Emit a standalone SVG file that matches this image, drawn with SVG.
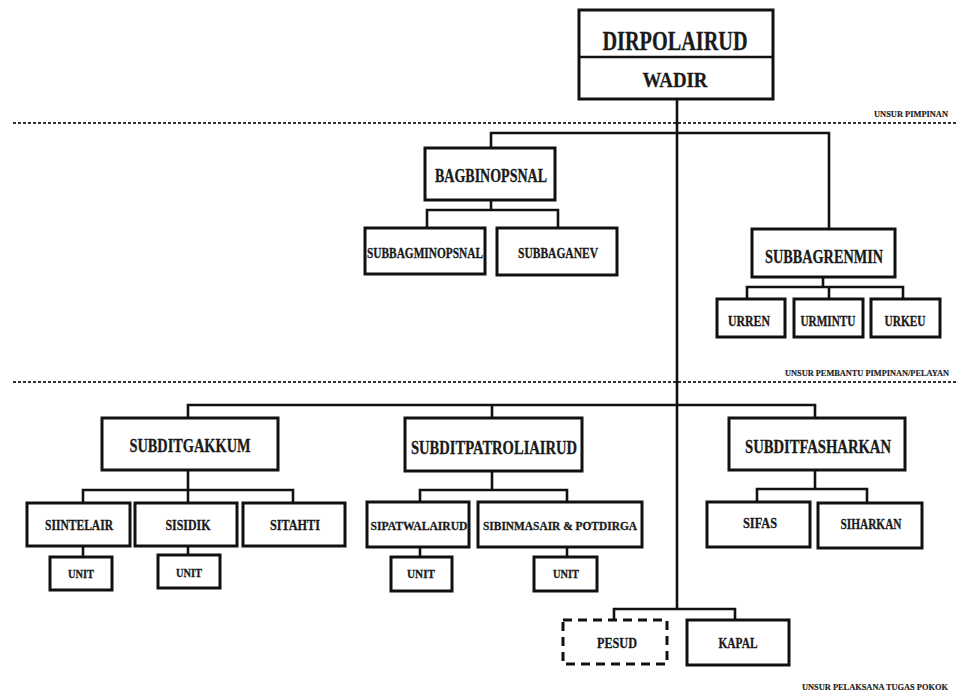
<svg xmlns="http://www.w3.org/2000/svg" width="956" height="695" viewBox="0 0 956 695">
<style>
.b{fill:#fff;stroke:#111;stroke-width:3}
.d{fill:#fff;stroke:#111;stroke-width:3;stroke-dasharray:9,6}
.c{fill:none;stroke:#111;stroke-width:2.6}
.sep{fill:none;stroke:#333;stroke-width:2;stroke-dasharray:3,2}
text{font-family:"Liberation Serif","DejaVu Serif",serif;font-weight:bold;fill:#1a1a1a;text-anchor:middle;stroke:#1a1a1a;stroke-width:0.3}
.s{font-size:8px;text-anchor:start;stroke-width:0.15}
.m{font-size:15px}
.l{font-size:18px}
.u{font-size:12px}
</style>
<rect width="956" height="695" fill="#fff"/>
<g id="separators">
<line class="sep" x1="13" y1="123" x2="956" y2="123"/>
<text class="s" x="874" y="117" font-size="9" textLength="74" lengthAdjust="spacingAndGlyphs">UNSUR PIMPINAN</text>
<line class="sep" x1="13" y1="382" x2="956" y2="382"/>
<text class="s" x="785" y="376" textLength="164" lengthAdjust="spacingAndGlyphs">UNSUR  PEMBANTU PIMPINAN/PELAYAN</text>
<text class="s" x="802" y="690" textLength="146" lengthAdjust="spacingAndGlyphs">UNSUR PELAKSANA TUGAS POKOK</text>
</g>
<g id="connectors">
<polyline class="c" points="677,99 677,609"/>
<polyline class="c" points="491,148 491,133 829,133 829,229"/>
<polyline class="c" points="491,200 491,210"/>
<polyline class="c" points="427,228 427,210 558,210 558,228"/>
<polyline class="c" points="823,277 823,287"/>
<polyline class="c" points="747,299 747,287 903,287 903,299"/>
<polyline class="c" points="829,287 829,299"/>
<polyline class="c" points="188,418 188,405 815,405 815,418"/>
<polyline class="c" points="492,405 492,418"/>
<polyline class="c" points="188,470 188,503"/>
<polyline class="c" points="83,503 83,490 293,490 293,503"/>
<polyline class="c" points="83,546 83,557"/>
<polyline class="c" points="188,546 188,555"/>
<polyline class="c" points="492,471 492,490"/>
<polyline class="c" points="420,502 420,490 567,490 567,502"/>
<polyline class="c" points="420,547 420,557"/>
<polyline class="c" points="567,547 567,557"/>
<polyline class="c" points="815,470 815,489"/>
<polyline class="c" points="757,502 757,489 867,489 867,503"/>
<polyline class="c" points="614,620 614,609 735,609 735,620"/>
</g>
<g id="dirpolairud">
<rect class="b" x="579" y="10" width="194" height="89"/>
<line class="c" x1="579" y1="57" x2="773" y2="57"/>
<text x="675" y="50" font-size="28" textLength="145" lengthAdjust="spacingAndGlyphs">DIRPOLAIRUD</text>
<text x="675" y="87" font-size="22" textLength="65" lengthAdjust="spacingAndGlyphs">WADIR</text>
</g>
<g id="bagbinopsnal">
<rect class="b" x="425" y="148" width="130" height="52"/>
<text class="l" x="491" y="182" textLength="112" lengthAdjust="spacingAndGlyphs">BAGBINOPSNAL</text>
</g>
<g id="subbagminopsnal">
<rect class="b" x="365" y="228" width="120" height="46"/>
<text x="425" y="258" font-size="14" textLength="116" lengthAdjust="spacingAndGlyphs">SUBBAGMINOPSNAL</text>
</g>
<g id="subbaganev">
<rect class="b" x="497" y="228" width="120" height="47"/>
<text class="m" x="558" y="258" textLength="80" lengthAdjust="spacingAndGlyphs">SUBBAGANEV</text>
</g>
<g id="subbagrenmin">
<rect class="b" x="752" y="229" width="143" height="48"/>
<text class="l" x="824" y="263" textLength="118" lengthAdjust="spacingAndGlyphs">SUBBAGRENMIN</text>
</g>
<g id="urren">
<rect class="b" x="717" y="299" width="68" height="38"/>
<text class="m" x="749" y="326" textLength="42" lengthAdjust="spacingAndGlyphs">URREN</text>
</g>
<g id="urmintu">
<rect class="b" x="794" y="299" width="69" height="38"/>
<text class="m" x="828" y="326" textLength="55" lengthAdjust="spacingAndGlyphs">URMINTU</text>
</g>
<g id="urkeu">
<rect class="b" x="871" y="299" width="69" height="38"/>
<text class="m" x="905" y="326" textLength="41" lengthAdjust="spacingAndGlyphs">URKEU</text>
</g>
<g id="subditgakkum">
<rect class="b" x="102" y="418" width="176" height="52"/>
<text class="l" x="190" y="452" textLength="121" lengthAdjust="spacingAndGlyphs">SUBDITGAKKUM</text>
</g>
<g id="siintelair">
<rect class="b" x="27" y="503" width="103" height="43"/>
<text class="m" x="79" y="530" textLength="68" lengthAdjust="spacingAndGlyphs">SIINTELAIR</text>
</g>
<g id="sisidik">
<rect class="b" x="135" y="503" width="102" height="43"/>
<text class="m" x="188" y="530" textLength="45" lengthAdjust="spacingAndGlyphs">SISIDIK</text>
</g>
<g id="sitahti">
<rect class="b" x="243" y="503" width="102" height="43"/>
<text class="m" x="295" y="530" textLength="50" lengthAdjust="spacingAndGlyphs">SITAHTI</text>
</g>
<g id="unit1">
<rect class="b" x="50" y="557" width="62" height="33"/>
<text class="u" x="81" y="578" textLength="26" lengthAdjust="spacingAndGlyphs">UNIT</text>
</g>
<g id="unit2">
<rect class="b" x="158" y="555" width="62" height="33"/>
<text class="u" x="189" y="577" textLength="26" lengthAdjust="spacingAndGlyphs">UNIT</text>
</g>
<g id="subditpatroliairud">
<rect class="b" x="405" y="418" width="177" height="53"/>
<text class="l" x="494" y="454" textLength="166" lengthAdjust="spacingAndGlyphs">SUBDITPATROLIAIRUD</text>
</g>
<g id="sipatwalairud">
<rect class="b" x="367" y="502" width="102" height="45"/>
<text x="419" y="530" font-size="13" textLength="97" lengthAdjust="spacingAndGlyphs">SIPATWALAIRUD</text>
</g>
<g id="sibinmasair">
<rect class="b" x="478" y="502" width="164" height="45"/>
<text x="560" y="530" font-size="13" textLength="154" lengthAdjust="spacingAndGlyphs">SIBINMASAIR &amp; POTDIRGA</text>
</g>
<g id="unit3">
<rect class="b" x="391" y="557" width="61" height="34"/>
<text class="u" x="421" y="578" textLength="28" lengthAdjust="spacingAndGlyphs">UNIT</text>
</g>
<g id="unit4">
<rect class="b" x="534" y="557" width="63" height="34"/>
<text class="u" x="566" y="578" textLength="26" lengthAdjust="spacingAndGlyphs">UNIT</text>
</g>
<g id="subditfasharkan">
<rect class="b" x="729" y="418" width="176" height="52"/>
<text class="l" x="818" y="453" textLength="146" lengthAdjust="spacingAndGlyphs">SUBDITFASHARKAN</text>
</g>
<g id="sifas">
<rect class="b" x="707" y="502" width="103" height="45"/>
<text class="m" x="760" y="528" textLength="34" lengthAdjust="spacingAndGlyphs">SIFAS</text>
</g>
<g id="siharkan">
<rect class="b" x="818" y="503" width="104" height="45"/>
<text class="m" x="871" y="529" textLength="61" lengthAdjust="spacingAndGlyphs">SIHARKAN</text>
</g>
<g id="pesud">
<rect class="d" x="563" y="620" width="104" height="44"/>
<text class="m" x="617" y="648" textLength="40" lengthAdjust="spacingAndGlyphs">PESUD</text>
</g>
<g id="kapal">
<rect class="b" x="687" y="620" width="102" height="45"/>
<text class="m" x="738" y="648" textLength="39" lengthAdjust="spacingAndGlyphs">KAPAL</text>
</g>
</svg>
